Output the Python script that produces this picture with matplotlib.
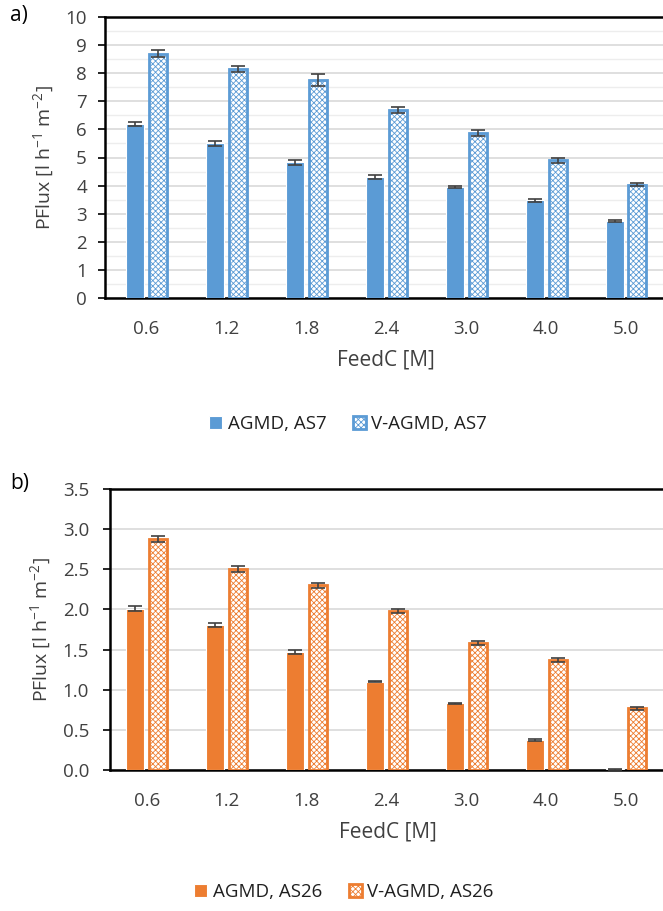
import matplotlib
matplotlib.use("Agg")
import matplotlib.pyplot as plt
import numpy as np

plt.rcParams['font.family'] = ['Open Sans', 'DejaVu Sans']
plt.rcParams['hatch.linewidth'] = 0.6

categories = ["0.6", "1.2", "1.8", "2.4", "3.0", "4.0", "5.0"]

agmd_as7 = [6.20, 5.50, 4.83, 4.30, 3.95, 3.47, 2.73]
agmd_as7_err = [0.08, 0.10, 0.09, 0.06, 0.05, 0.04, 0.03]
vagmd_as7 = [8.70, 8.15, 7.75, 6.70, 5.88, 4.90, 4.03]
vagmd_as7_err = [0.13, 0.12, 0.22, 0.11, 0.10, 0.08, 0.05]

agmd_as26 = [2.01, 1.81, 1.47, 1.10, 0.83, 0.37, 0.01]
agmd_as26_err = [0.03, 0.025, 0.025, 0.01, 0.01, 0.01, 0.005]
vagmd_as26 = [2.88, 2.50, 2.30, 1.98, 1.58, 1.37, 0.77]
vagmd_as26_err = [0.04, 0.04, 0.035, 0.03, 0.025, 0.02, 0.02]

W, H = 663, 911
FS = 13.5
fig = plt.figure(figsize=(W / 100, H / 100), dpi=100)


def make_axes(left, top, right, bottom):
    return fig.add_axes([left / W, 1 - bottom / H, (right - left) / W, (bottom - top) / H])


def draw(ax, a, ae, v, ve, color, ymax, ystep, minor, fmt, labels, xl, ypad):
    x = np.arange(len(categories))
    bw = 0.225
    off = 0.143
    ekw = dict(ecolor='#404040', elinewidth=1.2, capsize=5, capthick=1.2, zorder=4)
    ax.bar(x - off, a, bw, color=color, edgecolor='white', linewidth=0.8, zorder=3,
           yerr=ae, error_kw=ekw, label=labels[0])
    ax.bar(x + off, v, bw, facecolor='white', edgecolor=color, hatch='xxxxxx', linewidth=2.0, zorder=3,
           yerr=ve, error_kw=ekw, label=labels[1])
    ax.set_xlim(xl, len(categories) - 0.5)
    ax.set_ylim(0, ymax)
    ticks = np.arange(0, ymax + 1e-9, ystep)
    ax.set_yticks(ticks)
    ax.set_yticklabels([fmt.format(t) for t in ticks])
    if minor:
        ax.set_yticks(np.arange(0, ymax + 1e-9, minor), minor=True)
        ax.grid(axis='y', which='minor', color='#EDEDED', linewidth=1.0, zorder=0)
    ax.grid(axis='y', which='major', color='#D9D9D9', linewidth=1.2, zorder=0)
    ax.set_xticks(x)
    ax.set_xticklabels(categories)
    ax.tick_params(axis='both', labelsize=FS, length=0)
    ax.tick_params(axis='x', pad=16)
    ax.tick_params(axis='y', which='major', length=5, color='black', width=1.2, pad=ypad)
    ax.tick_params(axis='y', which='minor', length=0)
    for lab in ax.get_xticklabels() + ax.get_yticklabels():
        lab.set_color('#404040')
    for s in ['left', 'top', 'bottom']:
        ax.spines[s].set_color('black')
        ax.spines[s].set_linewidth(1.8)
    ax.spines['right'].set_visible(False)
    ax.set_xlabel('FeedC [M]', fontsize=15, color='#404040', labelpad=8)
    ax.set_ylabel(r'PFlux [l h$^{\mathregular{-1}}$ m$^{\mathregular{-2}}$]', fontsize=FS + 0.5,
                  color='#404040', labelpad=6)
    ax.set_axisbelow(True)


ax1 = make_axes(105, 17, 666, 298)
draw(ax1, agmd_as7, agmd_as7_err, vagmd_as7, vagmd_as7_err, '#5B9BD5', 10, 1, 0.5, '{:.0f}',
     ['AGMD, AS7', 'V-AGMD, AS7'], -0.52, 8)
ax1.legend(loc='center', bbox_to_anchor=(348 / W, 1 - 424 / H), bbox_transform=fig.transFigure,
           ncol=2, frameon=False, fontsize=FS, handlelength=0.7, handleheight=0.7,
           columnspacing=1.4, handletextpad=0.3, labelcolor='#202020')

ax2 = make_axes(110, 489, 666, 770)
draw(ax2, agmd_as26, agmd_as26_err, vagmd_as26, vagmd_as26_err, '#ED7D31', 3.5, 0.5, None, '{:.1f}',
     ['AGMD, AS26', 'V-AGMD, AS26'], -0.46, 10)
ax2.legend(loc='center', bbox_to_anchor=(344 / W, 1 - 892 / H), bbox_transform=fig.transFigure,
           ncol=2, frameon=False, fontsize=FS, handlelength=0.7, handleheight=0.7,
           columnspacing=1.4, handletextpad=0.3, labelcolor='#202020')

fig.text(10 / W, 1 - 16 / H, 'a)', fontsize=15, color='black', va='center', ha='left')
fig.text(10 / W, 1 - 484 / H, 'b)', fontsize=15, color='black', va='center', ha='left')

fig.savefig('out.png', dpi=100)
